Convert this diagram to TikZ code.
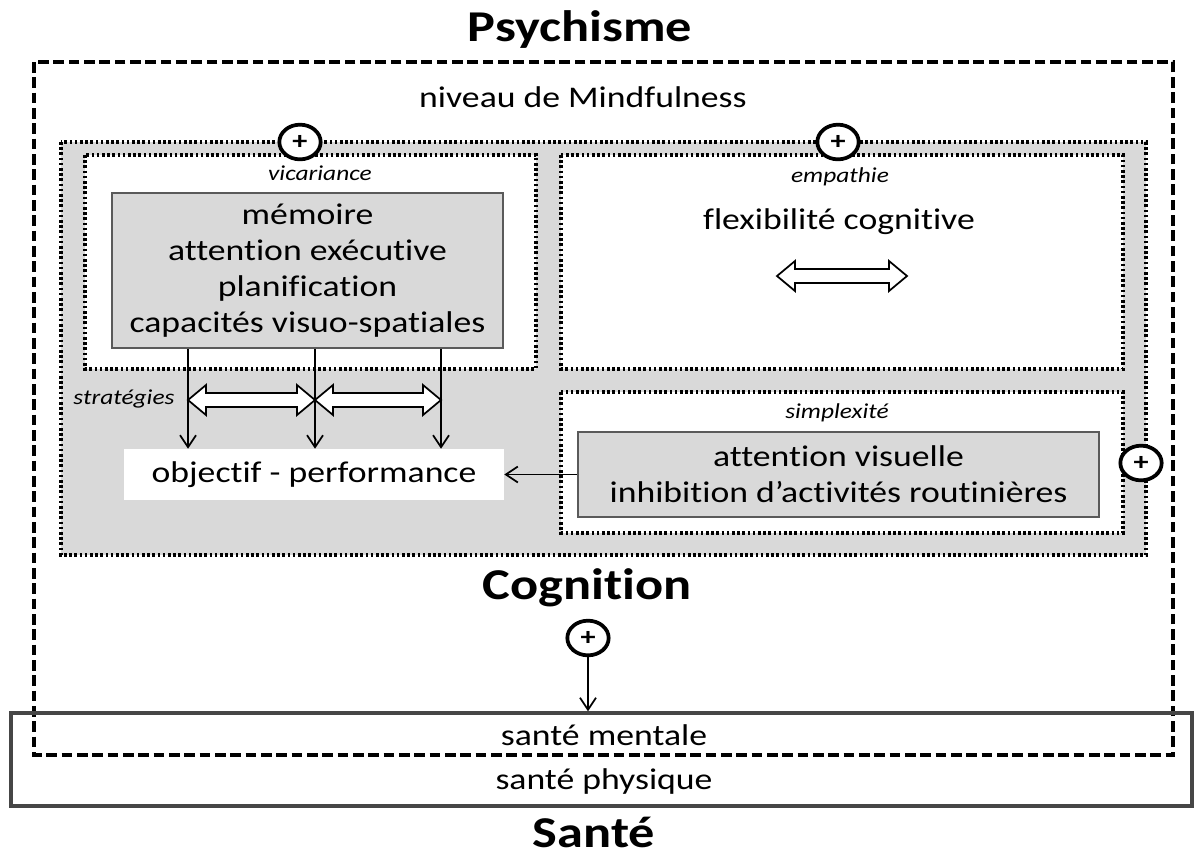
\documentclass[tikz,border=0pt]{standalone}
\usepackage{fontspec}
\setmainfont{Carlito}[FakeStretch=1.19,Ligatures=NoCommon]
\usetikzlibrary{arrows.meta,calc,shapes.geometric}
\definecolor{cogngray}{RGB}{217,217,217}
\definecolor{boxedge}{RGB}{90,90,90}
\definecolor{healthedge}{RGB}{70,70,70}
\newcommand{\bodyfont}{\fontsize{22.5}{27}\selectfont}
\newcommand{\titlefont}{\fontsize{33}{40}\selectfont\bfseries}
\newcommand{\italfont}{\fontsize{16}{19}\selectfont\itshape}
\newcommand{\plusfont}{\fontsize{19}{22}\selectfont\bfseries}
% hollow double arrow between two named coordinates
\newcommand{\hollowarrow}[2]{%
  \draw[hollow] (#1) -- ++(18,-15) -- ++(0,8) -- ($(#2)+(-18,-7)$) -- ++(0,-8) -- (#2)
    -- ++(-18,15) -- ++(0,-8) -- ($(#1)+(18,7)$) -- ++(0,8) -- cycle;}
\begin{document}
\begin{tikzpicture}[x=0.75pt,y=0.75pt,yscale=-1,
    dotline/.style={line width=2.3pt,dash pattern=on 2pt off 1.9pt},
    dashline/.style={line width=2.3pt,dash pattern=on 8pt off 3.5pt},
    graybox/.style={draw=boxedge,line width=1.6pt,fill=cogngray,align=center,font=\bodyfont},
    body/.style={font=\bodyfont,inner sep=0.75pt,align=center},
    title/.style={font=\titlefont,inner sep=0.75pt},
    ital/.style={font=\italfont,inner sep=0.75pt},
    plus/.style={ellipse,draw,fill=white,line width=2.8pt,minimum width=31pt,minimum height=26pt,inner sep=0pt,font=\plusfont},
    arr/.style={line width=1.3pt,-{Straight Barb[length=9pt,width=12pt]}},
    hollow/.style={draw,fill=white,line width=1.3pt,line join=miter}]
    \useasboundingbox (0,0) rectangle (1194,858);

    % Psychisme
    \node[title] (psy) at (580,30) {Psychisme};
    \draw[dashline] (34,62) rectangle (1173,755);
    \node[body] (mind) at (583,97) {niveau de Mindfulness};

    % Cognition area
    \draw[dotline,fill=cogngray] (61,142) rectangle (1146,555);
    \draw[dotline,fill=white] (85,155) rectangle (536,369);
    \draw[dotline,fill=white] (561,155) rectangle (1123,369);
    \draw[dotline,fill=white] (561,392) rectangle (1123,533);

    \node[ital] (vicar) at (320,173) {vicariance};
    \node[ital] (empa) at (840,177) {empathie};
    \node[ital] (simpl) at (837,413) {simplexité};
    \node[ital] (strat) at (124,399) {stratégies};

    \node[graybox,minimum width=293.25pt,minimum height=116.25pt] (memo) at (307.5,270.5)
        {mémoire\\attention exécutive\\planification\\capacités visuo-spatiales};
    \node[body] (flex) at (839,222) {flexibilité cognitive};
    \coordinate (f1) at (777,276);
    \coordinate (f2) at (907,276);
    \hollowarrow{f1}{f2}

    \node[body,fill=white,minimum width=285pt,minimum height=38.25pt] (goal) at (314,474.5) {objectif - performance};
    \node[graybox,minimum width=390.75pt,minimum height=63.75pt] (visu) at (838.5,474.5)
        {attention visuelle\\inhibition d’activités routinières};

    % strategies
    \coordinate (s1) at (188,400);
    \coordinate (s2) at (315,400);
    \coordinate (s3) at (441,400);
    \hollowarrow{s1}{s2}
    \hollowarrow{s2}{s3}
    \foreach \c in {s1,s2,s3}
        \draw[arr] (\c |- memo.south) -- (\c |- goal.north);
    \draw[arr] (visu.west) -- (goal.east);

    \node[title] (cogn) at (587,588) {Cognition};

    % plus signs
    \node[plus] (pv) at (300,142) {+};
    \node[plus] (pe) at (838,142) {+};
    \node[plus] (ps) at (1141,463) {+};
    \node[plus] (pc) at (588,638) {+};

    % Sante
    \node[draw=healthedge,line width=2.6pt,minimum width=885.75pt,minimum height=69.75pt,inner sep=0pt] (health) at (601.5,759.5) {};
    \node[body] (mental) at (604,735) {santé mentale};
    \node[body] (phys) at (604,781) {santé physique};
    \draw[arr] (pc.south) -- (pc.south |- health.north);
    \node[title] (sante) at (594,832) {Santé};
\end{tikzpicture}
\end{document}
